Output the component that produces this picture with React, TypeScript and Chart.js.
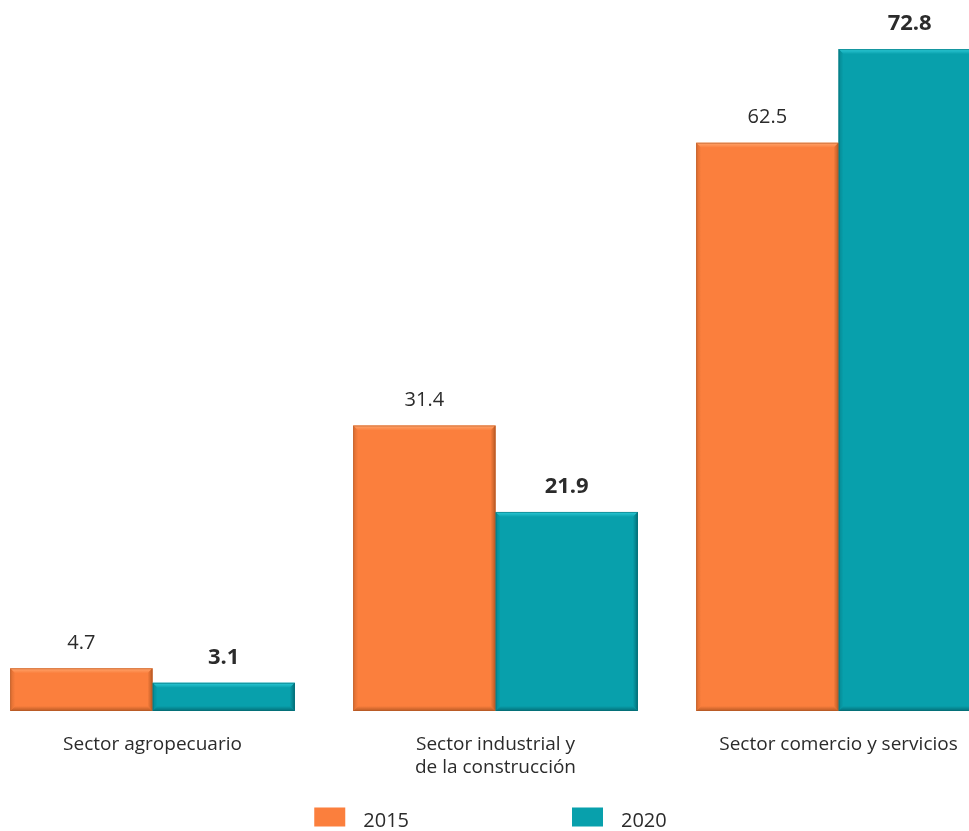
import React, { useEffect, useRef } from "react";
import { Chart, registerables } from "chart.js";

Chart.register(...registerables);

const categories: string[][] = [
  ["Sector agropecuario"],
  ["Sector industrial y", "de la construcción"],
  ["Sector comercio y servicios"],
];
const seriesLabels = ["2015", "2020"];
const values2015 = [4.7, 31.4, 62.5];
const values2020 = [3.1, 21.9, 72.8];
const seriesColors = ["#FB7F3D", "#08A0AC"];
const seriesLight = ["#FFA66E", "#2FCBD8"];
const seriesDark = ["#B85A25", "#046E77"];

const FONT = "'Open Sans', 'Noto Sans', sans-serif";
const TEXT = "#2b2b2b";

const bevelPlugin = {
  id: "bevel",
  afterDatasetsDraw(chart: any) {
    const ctx = chart.ctx;
    chart.data.datasets.forEach((ds: any, di: number) => {
      const meta = chart.getDatasetMeta(di);
      meta.data.forEach((bar: any) => {
        const w = bar.width;
        const x0 = bar.x - w / 2;
        const x1 = bar.x + w / 2;
        const y0 = bar.y;
        const y1 = bar.base;
        const b = 5;
        ctx.save();
        let g = ctx.createLinearGradient(0, y0, 0, y0 + b);
        g.addColorStop(0, seriesLight[di]);
        g.addColorStop(1, seriesColors[di]);
        ctx.fillStyle = g;
        ctx.beginPath();
        ctx.moveTo(x0, y0);
        ctx.lineTo(x1, y0);
        ctx.lineTo(x1 - b, y0 + b);
        ctx.lineTo(x0 + b, y0 + b);
        ctx.closePath();
        ctx.fill();
        g = ctx.createLinearGradient(x1 - b, 0, x1, 0);
        g.addColorStop(0, seriesColors[di]);
        g.addColorStop(1, seriesDark[di]);
        ctx.fillStyle = g;
        ctx.beginPath();
        ctx.moveTo(x1, y0);
        ctx.lineTo(x1, y1);
        ctx.lineTo(x1 - b, y1 - b);
        ctx.lineTo(x1 - b, y0 + b);
        ctx.closePath();
        ctx.fill();
        g = ctx.createLinearGradient(0, y1 - b, 0, y1);
        g.addColorStop(0, seriesColors[di]);
        g.addColorStop(1, seriesDark[di]);
        ctx.fillStyle = g;
        ctx.beginPath();
        ctx.moveTo(x0, y1);
        ctx.lineTo(x1, y1);
        ctx.lineTo(x1 - b, y1 - b);
        ctx.lineTo(x0 + b, y1 - b);
        ctx.closePath();
        ctx.fill();
        g = ctx.createLinearGradient(x0, 0, x0 + b, 0);
        g.addColorStop(0, seriesDark[di]);
        g.addColorStop(1, seriesColors[di]);
        ctx.globalAlpha = 0.5;
        ctx.fillStyle = g;
        ctx.beginPath();
        ctx.moveTo(x0, y0);
        ctx.lineTo(x0 + b, y0 + b);
        ctx.lineTo(x0 + b, y1 - b);
        ctx.lineTo(x0, y1);
        ctx.closePath();
        ctx.fill();
        ctx.strokeStyle = seriesDark[di];
        ctx.globalAlpha = 0.6;
        ctx.lineWidth = 1;
        ctx.strokeRect(x0 + 0.5, y0 + 0.5, w - 1, y1 - y0 - 1);
        ctx.restore();
      });
    });
  },
};

const valueLabelPlugin = {
  id: "valueLabels",
  afterDatasetsDraw(chart: any) {
    const ctx = chart.ctx;
    chart.data.datasets.forEach((ds: any, di: number) => {
      const meta = chart.getDatasetMeta(di);
      meta.data.forEach((bar: any, i: number) => {
        ctx.save();
        ctx.fillStyle = TEXT;
        ctx.textAlign = "center";
        ctx.textBaseline = "middle";
        ctx.font = di === 1 ? `bold 22px ${FONT}` : `20px ${FONT}`;
        ctx.fillText(ds.data[i].toFixed(1), bar.x, bar.y - 25);
        ctx.restore();
      });
    });
  },
};

const legendPlugin = {
  id: "customLegend",
  afterDraw(chart: any) {
    const ctx = chart.ctx;
    const boxW = 31;
    const boxH = 19;
    const gap = 18;
    const spacing = 163;
    ctx.save();
    ctx.font = `20px ${FONT}`;
    const items = chart.data.datasets.map((ds: any) => ({
      label: ds.label,
      color: ds.backgroundColor,
      tw: ctx.measureText(ds.label).width,
    }));
    const total =
      items.reduce((s: number, it: any) => s + boxW + gap + it.tw, 0) +
      spacing * (items.length - 1);
    let x = chart.width / 2 - 5 - total / 2;
    const cy = 818;
    items.forEach((it: any) => {
      ctx.fillStyle = it.color;
      ctx.fillRect(x, cy - boxH / 2 - 1, boxW, boxH);
      ctx.fillStyle = TEXT;
      ctx.textAlign = "left";
      ctx.textBaseline = "middle";
      ctx.fillText(it.label, x + boxW + gap, cy + 3);
      x += boxW + gap + it.tw + spacing;
    });
    ctx.restore();
  },
};

export default function App() {
  const ref = useRef<HTMLCanvasElement | null>(null);
  useEffect(() => {
    if (!ref.current) return;
    const chart = new Chart(ref.current, {
      type: "bar",
      data: {
        labels: categories,
        datasets: [
          {
            label: seriesLabels[0],
            data: values2015,
            backgroundColor: seriesColors[0],
            borderWidth: 0,
            categoryPercentage: 0.83,
            barPercentage: 1,
          },
          {
            label: seriesLabels[1],
            data: values2020,
            backgroundColor: seriesColors[1],
            borderWidth: 0,
            categoryPercentage: 0.83,
            barPercentage: 1,
          },
        ],
      },
      options: {
        responsive: false,
        animation: false,
        layout: { padding: 0 },
        plugins: {
          legend: { display: false },
          tooltip: { enabled: false },
        },
        scales: {
          y: { display: false, min: 0, max: 78.2 },
          x: {
            grid: { display: false },
            border: { display: false },
            ticks: {
              color: TEXT,
              font: { family: FONT, size: 19, lineHeight: 1.21 },
              padding: 14,
              maxRotation: 0,
              autoSkip: false,
            },
            afterFit: (scale: any) => {
              scale.height = 120;
            },
          },
        },
      },
      plugins: [bevelPlugin, valueLabelPlugin, legendPlugin],
    });
    return () => chart.destroy();
  }, []);

  return (
    <div
      style={{
        position: "absolute",
        left: 0,
        top: 0,
        width: 969,
        height: 831,
        overflow: "hidden",
        background: "#fff",
      }}
    >
      <canvas
        ref={ref}
        width={1029}
        height={831}
        style={{ position: "absolute", left: -19, top: 0 }}
      />
    </div>
  );
}
